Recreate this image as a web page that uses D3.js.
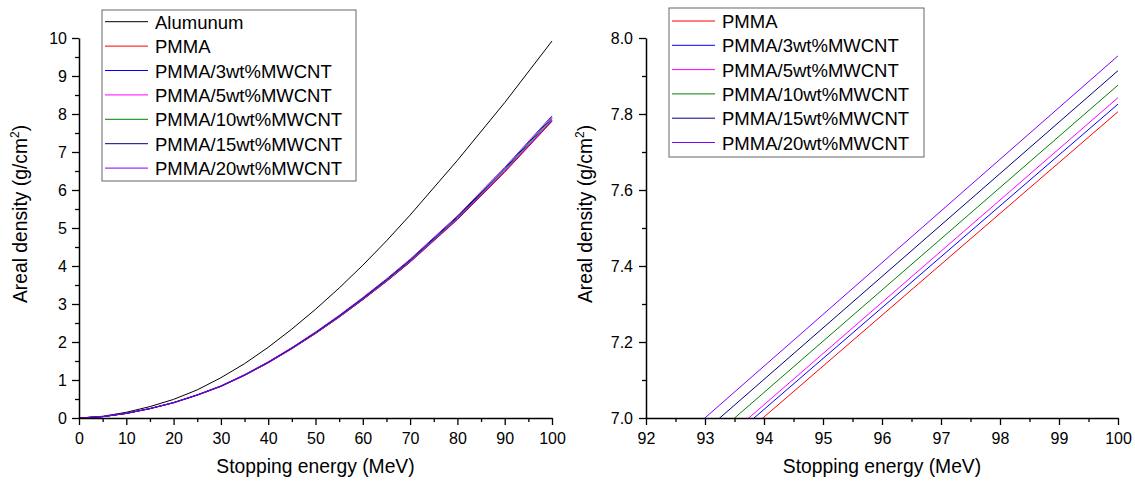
<!DOCTYPE html>
<html>
<head>
<meta charset="utf-8">
<script src="https://cdn.jsdelivr.net/npm/d3@7"></script>
<style>
  html, body { margin: 0; padding: 0; background: #fff; }
  svg { display: block; font-family: Arial, "Liberation Sans", sans-serif; }
</style>
</head>
<body>
<svg id="chart" width="1135" height="482"></svg>
<script>
// Proton stopping energy (MeV) vs. areal density (g/cm^2)
const energies = [0, 5, 10, 15, 20, 25, 30, 35, 40, 45, 50, 55, 60, 65, 70, 80, 90, 100];

const aluminum = [0, 0.045, 0.150, 0.300, 0.490, 0.740, 1.060, 1.430, 1.860, 2.340, 2.860, 3.420, 4.020, 4.660, 5.340, 6.780, 8.300, 9.920];
const pmma     = [0, 0.035, 0.120, 0.245, 0.400, 0.600, 0.830, 1.120, 1.450, 1.820, 2.220, 2.650, 3.110, 3.590, 4.100, 5.220, 6.467, 7.806];
const pmma3    = [0, 0.035, 0.120, 0.246, 0.401, 0.602, 0.832, 1.123, 1.454, 1.825, 2.226, 2.657, 3.118, 3.599, 4.110, 5.233, 6.487, 7.826];
const pmma5    = [0, 0.035, 0.121, 0.246, 0.402, 0.603, 0.834, 1.125, 1.457, 1.829, 2.231, 2.663, 3.125, 3.607, 4.119, 5.245, 6.496, 7.843];
const pmma10   = [0, 0.035, 0.121, 0.247, 0.404, 0.605, 0.837, 1.130, 1.463, 1.836, 2.240, 2.674, 3.138, 3.622, 4.137, 5.267, 6.528, 7.876];
const pmma15   = [0, 0.035, 0.122, 0.248, 0.406, 0.608, 0.841, 1.136, 1.470, 1.845, 2.251, 2.687, 3.153, 3.640, 4.157, 5.292, 6.560, 7.914];
const pmma20   = [0, 0.036, 0.122, 0.250, 0.408, 0.611, 0.846, 1.141, 1.477, 1.854, 2.262, 2.700, 3.169, 3.658, 4.177, 5.318, 6.592, 7.953];

const seriesNames = ["Alumunum", "PMMA", "PMMA/3wt%MWCNT", "PMMA/5wt%MWCNT",
                     "PMMA/10wt%MWCNT", "PMMA/15wt%MWCNT", "PMMA/20wt%MWCNT"];
const seriesValues = [aluminum, pmma, pmma3, pmma5, pmma10, pmma15, pmma20];
const seriesColors = ["#000000", "#ff0000", "#0000ff", "#ff00ff", "#008000", "#000080", "#8000ff"];

const leftXTicks = [0, 10, 20, 30, 40, 50, 60, 70, 80, 90, 100];
const leftYTicks = [0, 1, 2, 3, 4, 5, 6, 7, 8, 9, 10];
const rightXTicks = [92, 93, 94, 95, 96, 97, 98, 99, 100];
const rightYTicks = [7.0, 7.2, 7.4, 7.6, 7.8, 8.0];

const series = seriesNames.map((name, i) => ({
  name,
  color: seriesColors[i],
  points: energies.map((e, j) => ({ x: e, y: seriesValues[i][j] }))
}));

const svg = d3.select("#chart");

function drawPanel(cfg) {
  const x = d3.scaleLinear().domain(cfg.xDomain).range([cfg.left, cfg.right]);
  const y = d3.scaleLinear().domain(cfg.yDomain).range([cfg.bottom, cfg.top]);
  const g = svg.append("g");

  const clipId = "clip-" + cfg.id;
  svg.append("clipPath").attr("id", clipId)
    .append("rect")
    .attr("x", cfg.left).attr("y", cfg.top - 10)
    .attr("width", cfg.right - cfg.left + 1).attr("height", cfg.bottom - cfg.top + 10);

  const line = d3.line().x(d => x(d.x)).y(d => y(d.y));
  g.append("g").attr("clip-path", `url(#${clipId})`)
    .selectAll("path")
    .data(cfg.series)
    .join("path")
    .attr("d", d => line(d.points))
    .attr("fill", "none")
    .attr("stroke", d => d.color)
    .attr("stroke-width", 1);

  // minor ticks
  g.append("g").attr("transform", `translate(0,${cfg.bottom})`)
    .call(d3.axisBottom(x).tickValues(cfg.xMinor).tickSize(4).tickFormat(""))
    .call(a => a.select(".domain").remove());
  g.append("g").attr("transform", `translate(${cfg.left},0)`)
    .call(d3.axisLeft(y).tickValues(cfg.yMinor).tickSize(4).tickFormat(""))
    .call(a => a.select(".domain").remove());

  // major ticks and labels
  g.append("g").attr("transform", `translate(0,${cfg.bottom})`)
    .call(d3.axisBottom(x).tickValues(cfg.xTicks).tickSize(7).tickSizeOuter(0)
      .tickPadding(8).tickFormat(cfg.xFormat));
  g.append("g").attr("transform", `translate(${cfg.left},0)`)
    .call(d3.axisLeft(y).tickValues(cfg.yTicks).tickSize(7).tickSizeOuter(0)
      .tickPadding(cfg.yPad).tickFormat(cfg.yFormat));

  g.selectAll(".tick line").attr("stroke", "#000").attr("stroke-width", 1.3);
  g.selectAll(".domain").attr("stroke", "#000").attr("stroke-width", 1.5);
  g.selectAll(".tick text").attr("font-size", 16).attr("fill", "#000")
    .attr("font-family", "Arial, 'Liberation Sans', sans-serif");

  // axis titles
  g.append("text")
    .attr("x", (cfg.left + cfg.right) / 2).attr("y", 473)
    .attr("text-anchor", "middle").attr("font-size", 19.3)
    .text("Stopping energy (MeV)");

  const yt = g.append("text")
    .attr("transform", `translate(${cfg.yTitleX},${cfg.yTitleY}) rotate(-90)`)
    .attr("text-anchor", "middle").attr("font-size", 19.3);
  yt.append("tspan").text("Areal density (g/cm");
  yt.append("tspan").attr("font-size", 12).attr("dy", -8).text("2");
  yt.append("tspan").attr("dy", 8).text(")");

  // legend
  const lg = g.append("g");
  lg.append("rect")
    .attr("x", cfg.legend.x).attr("y", cfg.legend.y)
    .attr("width", cfg.legend.w).attr("height", cfg.legend.h)
    .attr("fill", "#fff").attr("stroke", "#666").attr("stroke-width", 1);
  const rows = lg.selectAll("g.row").data(cfg.series).join("g")
    .attr("class", "row")
    .attr("transform", (d, i) => `translate(0,${cfg.legend.row0 + i * cfg.legend.step})`);
  rows.append("line")
    .attr("x1", cfg.legend.x + 3).attr("x2", cfg.legend.x + 46)
    .attr("stroke", d => d.color).attr("stroke-width", 1);
  rows.append("text")
    .attr("x", cfg.legend.x + 53).attr("y", 7)
    .attr("font-size", 18.5).attr("fill", "#000")
    .text(d => d.name);
}

drawPanel({
  id: "full",
  left: 79, right: 552, top: 38, bottom: 418,
  xDomain: [0, 100], yDomain: [0, 10],
  xTicks: leftXTicks, yTicks: leftYTicks,
  xMinor: d3.range(5, 100, 10), yMinor: d3.range(0.5, 10, 1),
  xFormat: d3.format("d"), yFormat: d3.format("d"),
  yPad: 5,
  yTitleX: 27, yTitleY: 214,
  series: series,
  legend: { x: 102, y: 10, w: 254, h: 171, row0: 21.7, step: 24.4 }
});

drawPanel({
  id: "zoom",
  left: 646, right: 1118, top: 38, bottom: 418,
  xDomain: [92, 100], yDomain: [7.0, 8.0],
  xTicks: rightXTicks, yTicks: rightYTicks,
  xMinor: d3.range(92.5, 100, 1), yMinor: d3.range(7.1, 8.0, 0.2),
  xFormat: d3.format("d"), yFormat: d3.format(".1f"),
  yPad: 6,
  yTitleX: 592, yTitleY: 214,
  series: series.slice(1),
  legend: { x: 669, y: 8, w: 255, h: 149, row0: 21, step: 24.3 }
});
</script>
</body>
</html>
